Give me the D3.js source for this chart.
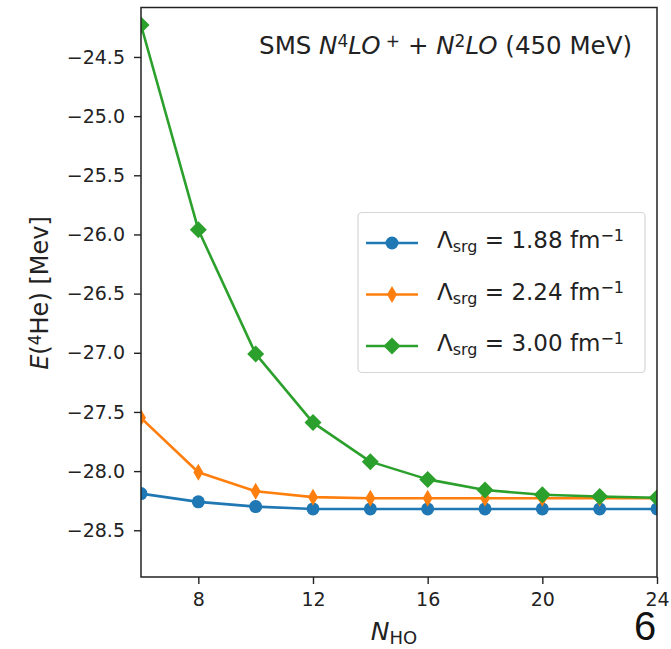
<!DOCTYPE html>
<html>
<head>
<meta charset="utf-8">
<script src="https://cdn.jsdelivr.net/npm/d3@7"></script>
<style>
  html, body { margin: 0; padding: 0; background: #fff; }
  svg { display: block; font-family: "DejaVu Sans", sans-serif; }
</style>
</head>
<body>
<svg id="chart" width="671" height="649"></svg>
<script>
// Harmonic-oscillator basis size
const nHO = [6, 8, 10, 12, 14, 16, 18, 20, 22, 24];

// Ground-state energy of 4He (MeV) for each SRG cutoff
const e188 = [-28.19, -28.26, -28.30, -28.32, -28.32, -28.32, -28.32, -28.32, -28.32, -28.32];
const e224 = [-27.55, -28.01, -28.17, -28.22, -28.23, -28.23, -28.23, -28.23, -28.23, -28.23];
const e300 = [-24.23, -25.96, -27.01, -27.59, -27.92, -28.07, -28.16, -28.20, -28.215, -28.225];

const seriesNames = ["1.88", "2.24", "3.00"];
const seriesColors = ["#1f77b4", "#ff7f0e", "#2ca02c"];
const seriesMarkers = ["circle", "thinDiamond", "diamond"];

const xTicks = [8, 12, 16, 20, 24];
const yTicks = [-28.5, -28.0, -27.5, -27.0, -26.5, -26.0, -25.5, -25.0, -24.5];
const xDomain = [6, 24];
const yDomain = [-28.895, -24.082];

const W = 671, H = 649;
const m = { left: 141, right: 14, top: 7.5, bottom: 72 };
const iw = W - m.left - m.right, ih = H - m.top - m.bottom;

const svg = d3.select("#chart");
const g = svg.append("g").attr("transform", `translate(${m.left},${m.top})`);

const x = d3.scaleLinear().domain(xDomain).range([0, iw]);
const y = d3.scaleLinear().domain(yDomain).range([ih, 0]);

g.append("defs").append("clipPath").attr("id", "plotClip")
  .append("rect").attr("width", iw).attr("height", ih);

// Axes
const tickFont = 19;
const xAxis = g.append("g").attr("transform", `translate(0,${ih})`)
  .call(d3.axisBottom(x).tickValues(xTicks).tickSize(7).tickPadding(9).tickFormat(d3.format("d")));
const yAxis = g.append("g")
  .call(d3.axisLeft(y).tickValues(yTicks).tickSize(7).tickPadding(9).tickFormat(d3.format(".1f")));
[xAxis, yAxis].forEach(a => {
  a.select(".domain").remove();
  a.selectAll(".tick line").attr("stroke", "#222").attr("stroke-width", 1.4);
  a.selectAll(".tick text").attr("fill", "#222").style("font-size", tickFont + "px")
    .style("font-family", "DejaVu Sans");
});

// Series
const data = [e188, e224, e300];
const line = d3.line().x((d, i) => x(nHO[i])).y(d => y(d));

function markerPath(type) {
  if (type === "circle") return d3.symbol(d3.symbolCircle, Math.PI * 6.5 * 6.5)();
  if (type === "diamond") return "M0,-8.5L8.5,0L0,8.5L-8.5,0Z";
  return "M0,-8.5L5,0L0,8.5L-5,0Z";
}

const plot = g.append("g").attr("clip-path", "url(#plotClip)");
data.forEach((vals, k) => {
  const sg = plot.append("g");
  sg.append("path").datum(vals).attr("d", line)
    .attr("fill", "none").attr("stroke", seriesColors[k]).attr("stroke-width", 2.6)
    .attr("stroke-linejoin", "round");
  sg.selectAll("path.mk").data(vals).enter().append("path").attr("class", "mk")
    .attr("d", markerPath(seriesMarkers[k]))
    .attr("transform", (d, i) => `translate(${x(nHO[i])},${y(d)})`)
    .attr("fill", seriesColors[k]);
});

// Frame
g.append("rect").attr("width", iw).attr("height", ih)
  .attr("fill", "none").attr("stroke", "#222").attr("stroke-width", 1.5);

// Title inside the axes
const title = g.append("text").attr("x", 632 - m.left).attr("y", 54 - m.top)
  .attr("text-anchor", "end").style("font-size", "24.5px").attr("fill", "#222");
title.append("tspan").text("SMS ");
title.append("tspan").style("font-style", "italic").text("N");
title.append("tspan").attr("baseline-shift", "42%").style("font-size", "17px").text("4");
title.append("tspan").style("font-style", "italic").text("LO");
title.append("tspan").attr("baseline-shift", "42%").style("font-size", "17px").text(" +");
title.append("tspan").text(" + ");
title.append("tspan").style("font-style", "italic").text("N");
title.append("tspan").attr("baseline-shift", "42%").style("font-size", "17px").text("2");
title.append("tspan").style("font-style", "italic").text("LO");
title.append("tspan").text(" (450 MeV)");

// Legend
const lg = svg.append("g");
lg.append("rect").attr("x", 358).attr("y", 212.5).attr("width", 287).attr("height", 160)
  .attr("rx", 4).attr("fill", "#fff").attr("fill-opacity", 0.8)
  .attr("stroke", "#d6d6d6").attr("stroke-width", 1.2);
const rowY = [243, 294.5, 346];
seriesNames.forEach((name, k) => {
  const ry = rowY[k];
  lg.append("line").attr("x1", 366).attr("x2", 418).attr("y1", ry).attr("y2", ry)
    .attr("stroke", seriesColors[k]).attr("stroke-width", 2.6);
  lg.append("path").attr("d", markerPath(seriesMarkers[k]))
    .attr("transform", `translate(392,${ry})`).attr("fill", seriesColors[k]);
  const t = lg.append("text").attr("x", 437).attr("y", ry + 5)
    .style("font-size", "23px").attr("fill", "#222");
  t.append("tspan").text("Λ");
  t.append("tspan").attr("baseline-shift", "-22%").style("font-size", "16px").text("srg");
  t.append("tspan").text(" = " + name + " fm");
  t.append("tspan").attr("baseline-shift", "42%").style("font-size", "16px").text("−1");
});

// Axis labels
const xl = svg.append("text").attr("x", 394).attr("y", 640)
  .attr("text-anchor", "middle").style("font-size", "25px").attr("fill", "#222");
xl.append("tspan").style("font-style", "italic").text("N");
xl.append("tspan").attr("baseline-shift", "-22%").style("font-size", "18px").text("HO");

const yl = svg.append("text").attr("transform", "translate(48,293) rotate(-90)")
  .attr("text-anchor", "middle").style("font-size", "24px").attr("fill", "#222");
yl.append("tspan").style("font-style", "italic").text("E");
yl.append("tspan").text("(");
yl.append("tspan").attr("baseline-shift", "42%").style("font-size", "17px").text("4");
yl.append("tspan").text("He) [Mev]");

// Page number at the lower right
svg.append("text").attr("x", 634).attr("y", 640)
  .style("font-family", "Liberation Sans, Arial, sans-serif").style("font-size", "40px")
  .attr("fill", "#111").text("6");
</script>
</body>
</html>
